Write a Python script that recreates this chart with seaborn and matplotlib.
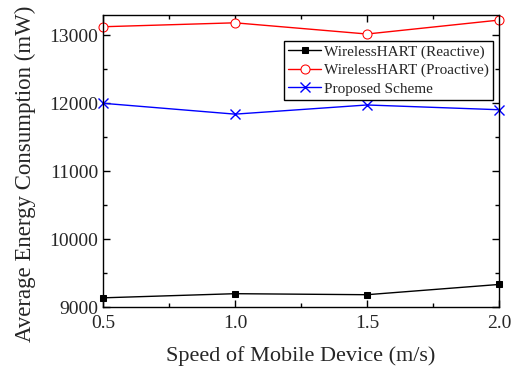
import matplotlib
matplotlib.use("Agg")
import matplotlib.pyplot as plt
import seaborn as sns
import pandas as pd
from matplotlib.ticker import MultipleLocator, FormatStrFormatter

speed = [0.5, 1.0, 1.5, 2.0]
reactive = [9135, 9196, 9181, 9332]
proactive = [13127, 13185, 13020, 13225]
proposed = [12000, 11840, 11975, 11905]
series_names = ["WirelessHART (Reactive)", "WirelessHART (Proactive)", "Proposed Scheme"]

sns.set_theme(style="ticks")
plt.rcParams['font.family'] = ['Liberation Serif', 'DejaVu Serif']
plt.rcParams['mathtext.fontset'] = 'stix'

fig = plt.figure(figsize=(5.18, 3.74), dpi=100)
ax = fig.add_axes([103/518, 1 - 307/374, (499-103)/518, (307-15)/374])

styles = [
    dict(color="black", marker="s", markerfacecolor="black", markeredgecolor="black", markersize=5),
    dict(color="red", marker="o", markerfacecolor="white", markeredgecolor="red", markersize=6.5),
    dict(color="blue", marker="x", markeredgecolor="blue", markeredgewidth=1, markersize=6.5),
]
for name, vals, st in zip(series_names, [reactive, proactive, proposed], styles):
    d = pd.DataFrame({"speed": speed, "energy": vals})
    sns.lineplot(data=d, x="speed", y="energy", ax=ax, label=name,
                 linewidth=1, clip_on=False, **st)

ax.set_xlim(0.5, 2.0)
ax.set_ylim(9000, 13300)
ax.xaxis.set_major_locator(MultipleLocator(0.5))
ax.xaxis.set_minor_locator(MultipleLocator(0.25))
ax.yaxis.set_major_locator(MultipleLocator(1000))
ax.yaxis.set_minor_locator(MultipleLocator(500))
ax.xaxis.set_major_formatter(FormatStrFormatter("%.1f"))
ax.tick_params(which="both", direction="in", top=True, right=True, labelsize=14, color="black")
ax.tick_params(which="major", length=5, width=1)
ax.tick_params(which="minor", length=3, width=1)
ax.tick_params(axis="x", pad=6)
for s in ax.spines.values():
    s.set_color("black")
    s.set_linewidth(1)

ax.set_xlabel("Speed of Mobile Device (m/s)", fontsize=16, labelpad=10)
ax.set_ylabel("Average Energy Consumption (mW)", fontsize=16.5)
ax.yaxis.set_label_coords(-0.17, 0.455)

leg = ax.legend(loc="upper right", bbox_to_anchor=(0.985, 0.91), fontsize=11,
                frameon=True, fancybox=False, edgecolor="black", framealpha=1,
                borderpad=0.25, handlelength=2.2, labelspacing=0.3, handletextpad=0.2,
                borderaxespad=0)
leg.get_frame().set_linewidth(1)

fig.savefig("out.png", dpi=100)
